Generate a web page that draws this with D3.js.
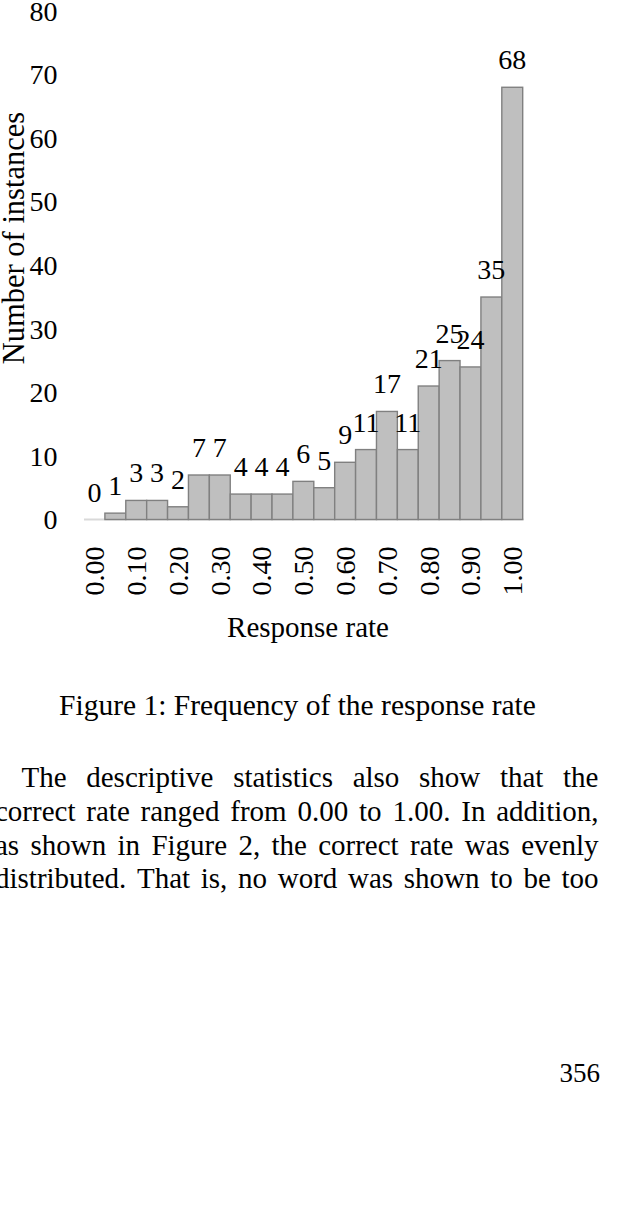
<!DOCTYPE html>
<html>
<head>
<meta charset="utf-8">
<script src="https://cdn.jsdelivr.net/npm/d3@7"></script>
<style>
  html, body { margin: 0; padding: 0; background: #fff; }
  svg { display: block; }
  text { font-family: "Liberation Serif", "Times New Roman", Times, serif; fill: #000; }
</style>
</head>
<body>
<svg id="chart" width="629" height="1208"></svg>
<script>
// ---- data ----
const categories = ["0.00","0.05","0.10","0.15","0.20","0.25","0.30","0.35","0.40","0.45","0.50",
                    "0.55","0.60","0.65","0.70","0.75","0.80","0.85","0.90","0.95","1.00"];
const counts = [0,1,3,3,2,7,7,4,4,4,6,5,9,11,17,11,21,25,24,35,68];
const yTicks = [0,10,20,30,40,50,60,70,80];
const xTickLabels = ["0.00","0.10","0.20","0.30","0.40","0.50","0.60","0.70","0.80","0.90","1.00"];
const yTitle = "Number of instances";
const xTitle = "Response rate";
const caption = "Figure 1: Frequency of the response rate";
const paragraphLines = [
  "The descriptive statistics also show that the",
  "correct rate ranged from 0.00 to 1.00. In addition,",
  "as shown in Figure 2, the correct rate was evenly",
  "distributed. That is, no word was shown to be too"
];
const pageNumber = "356";

// ---- chart ----
const svg = d3.select("#chart");
svg.append("rect").attr("width", 629).attr("height", 1208).attr("fill", "#fff");

const x = d3.scaleBand().domain(categories).range([84, 522.7]).padding(0);
const y = d3.scaleLinear().domain([0, 80]).range([519.5, 11]);

// y tick labels
svg.append("g").selectAll("text").data(yTicks).join("text")
  .attr("x", 57.5)
  .attr("y", d => y(d))
  .attr("dy", "0.35em")
  .attr("text-anchor", "end")
  .attr("font-size", 28)
  .text(d => d);

// baseline
svg.append("line")
  .attr("x1", x.range()[0]).attr("x2", x.range()[1] + 1)
  .attr("y1", y(0)).attr("y2", y(0))
  .attr("stroke", "#d9d9d9").attr("stroke-width", 2);

// bars
svg.append("g").selectAll("rect").data(counts).join("rect")
  .attr("x", (d, i) => x(categories[i]))
  .attr("y", d => y(d))
  .attr("width", x.bandwidth())
  .attr("height", d => y(0) - y(d))
  .attr("fill", "#bfbfbf")
  .attr("stroke", "#808080")
  .attr("stroke-width", 1.4)
  .attr("visibility", d => d > 0 ? "visible" : "hidden");

// data labels
svg.append("g").selectAll("text").data(counts).join("text")
  .attr("x", (d, i) => x(categories[i]) + x.bandwidth() / 2)
  .attr("y", d => y(d) - 18)
  .attr("text-anchor", "middle")
  .attr("font-size", 28)
  .text(d => d);

// x tick labels (rotated)
svg.append("g").selectAll("text").data(xTickLabels).join("text")
  .attr("transform", d => `translate(${x(d) + x.bandwidth() / 2},546.5) rotate(-90)`)
  .attr("dy", "0.35em")
  .attr("text-anchor", "end")
  .attr("font-size", 28)
  .text(d => d);

// axis titles
svg.append("text")
  .attr("transform", "translate(23.5,238) rotate(-90)")
  .attr("text-anchor", "middle")
  .attr("font-size", 30.5)
  .text(yTitle);

svg.append("text")
  .attr("x", 308).attr("y", 637)
  .attr("text-anchor", "middle")
  .attr("font-size", 29)
  .text(xTitle);

// caption
svg.append("text")
  .attr("x", 297.5).attr("y", 715)
  .attr("text-anchor", "middle")
  .attr("font-size", 29.5)
  .text(caption);

// justified paragraph
const lineBaselines = [787, 821, 854.5, 888];
const leftEdges = [21.5, -5, -5, -5];
const rightEdge = 598.5;
paragraphLines.forEach((line, li) => {
  const words = line.split(" ");
  const g = svg.append("g");
  const nodes = words.map(w => g.append("text")
    .attr("y", lineBaselines[li])
    .attr("font-size", 29)
    .text(w));
  const widths = nodes.map(n => n.node().getComputedTextLength());
  const total = d3.sum(widths);
  const gap = (rightEdge - leftEdges[li] - total) / (words.length - 1);
  let cx = leftEdges[li];
  nodes.forEach((n, i) => { n.attr("x", cx); cx += widths[i] + gap; });
});

// page number
svg.append("text")
  .attr("x", 600).attr("y", 1081.5)
  .attr("text-anchor", "end")
  .attr("font-size", 27)
  .text(pageNumber);
</script>
</body>
</html>
